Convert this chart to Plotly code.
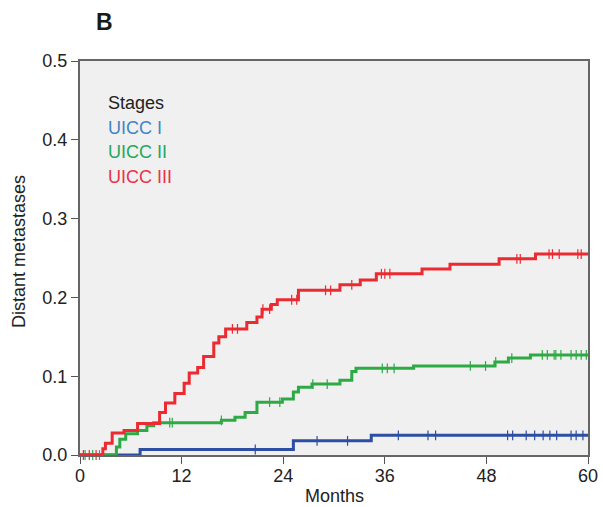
import plotly.graph_objects as go
import numpy as np

# Step-function data (months, cumulative incidence)
uicc1_t = [0, 7.1, 25.2, 34.4, 60]
uicc1_v = [0.0, 0.007, 0.018, 0.025, 0.025]
uicc1_cens = [20.7, 28.0, 31.6, 37.6, 41.1, 42.0, 50.5, 51.1, 52.7, 53.7, 54.7, 55.5, 56.3, 58.0, 58.6, 59.4]

uicc2_t = [0, 4.3, 4.7, 5.4, 6.8, 7.9, 8.7, 16.7, 18.3, 19.5, 20.9, 23.9, 25.2, 25.8, 27.4, 30.7, 32.1, 32.6, 39.4, 49.0, 50.6, 53.2, 60]
uicc2_v = [0.0, 0.010, 0.020, 0.027, 0.031, 0.037, 0.041, 0.044, 0.048, 0.054, 0.067, 0.071, 0.080, 0.086, 0.090, 0.095, 0.106, 0.110, 0.113, 0.118, 0.123, 0.127, 0.127]
uicc2_cens = [0.6, 1.5, 2.3, 10.6, 10.9, 16.7, 22.4, 23.6, 27.5, 29.2, 35.7, 36.3, 37.1, 46.1, 47.9, 49.1, 51.0, 54.6, 55.2, 56.0, 56.2, 56.8, 58.0, 58.6, 59.2, 59.8]

uicc3_t = [0, 2.7, 3.0, 3.8, 5.2, 6.8, 9.4, 10.1, 11.2, 12.3, 12.9, 13.9, 14.6, 15.8, 16.4, 17.2, 19.7, 20.9, 21.5, 22.6, 23.3, 25.8, 30.7, 33.1, 35.0, 40.4, 43.7, 49.5, 53.8, 60]
uicc3_v = [0.0, 0.008, 0.015, 0.028, 0.031, 0.040, 0.054, 0.066, 0.078, 0.091, 0.104, 0.111, 0.125, 0.142, 0.150, 0.160, 0.168, 0.175, 0.185, 0.191, 0.197, 0.209, 0.216, 0.222, 0.230, 0.236, 0.242, 0.249, 0.255, 0.255]
uicc3_cens = [0.4, 1.1, 1.9, 18.0, 18.6, 21.6, 22.4, 25.0, 25.6, 29.0, 29.6, 32.1, 35.6, 36.0, 36.6, 51.6, 52.0, 55.4, 55.8, 56.6, 58.8, 59.2]

x_ticks = [0, 12, 24, 36, 48, 60]
y_ticks = [0.0, 0.1, 0.2, 0.3, 0.4, 0.5]

series = [
    ("UICC I", uicc1_t, uicc1_v, uicc1_cens, "#2c4ea3", "#3f84c9"),
    ("UICC II", uicc2_t, uicc2_v, uicc2_cens, "#2eaa45", "#22a85c"),
    ("UICC III", uicc3_t, uicc3_v, uicc3_cens, "#ec2a31", "#ea3249"),
]

fig = go.Figure()

def step_val(ts, vs, t):
    idx = np.searchsorted(np.array(ts), t, side="right") - 1
    return vs[max(idx, 0)]

for name, ts, vs, cens, col, _ in series:
    fig.add_trace(go.Scatter(x=ts, y=vs, mode="lines", line=dict(color=col, width=3, shape="hv"),
                             name=name, showlegend=False, cliponaxis=False))
    fig.add_trace(go.Scatter(x=cens, y=[step_val(ts, vs, c) for c in cens], mode="markers",
                             marker=dict(symbol="line-ns", size=7, line=dict(color=col, width=1.2)),
                             showlegend=False, cliponaxis=False))

font = "Liberation Sans, Arial, sans-serif"
W, H = 603, 507
L, R, T, B = 80, 15, 61, 52
pw, ph = W - L - R, H - T - B

fig.update_layout(
    width=W, height=H,
    margin=dict(l=L, r=R, t=T, b=B, autoexpand=False),
    paper_bgcolor="white", plot_bgcolor="#f0f0f0",
    font=dict(family=font, size=18, color="#222222"),
    xaxis=dict(range=[0, 60], tickvals=x_ticks, ticks="outside", ticklen=7, tickcolor="#555",
               showline=True, linecolor="#666", linewidth=2, mirror=True, showgrid=False, zeroline=False,
               automargin=False, ticklabelstandoff=-4),
    yaxis=dict(range=[0, 0.5], tickvals=y_ticks, tickformat=".1f", ticks="outside", ticklen=7, tickcolor="#555",
               showline=True, linecolor="#666", linewidth=2, mirror=True, showgrid=False, zeroline=False,
               automargin=False),
)

def to_paper(px, py):
    return (px - L) / pw, 1 - (py - T) / ph

annots = []
bx, by = to_paper(94, 22)
annots.append(dict(text="<b>B</b>", x=bx, y=by, xref="paper", yref="paper", showarrow=False,
                   xanchor="left", yanchor="middle", font=dict(size=23, color="#1a1a1a", family=font)))
legend_items = [("Stages", "#222222", 103), ("UICC I", series[0][5], 128),
                ("UICC II", series[1][5], 152), ("UICC III", series[2][5], 177)]
for text, col, py in legend_items:
    ax, ay = to_paper(106, py)
    annots.append(dict(text=text, x=ax, y=ay, xref="paper", yref="paper", showarrow=False,
                       xanchor="left", yanchor="middle", font=dict(size=18, color=col, family=font)))
mx, my = to_paper(334, 496)
annots.append(dict(text="Months", x=mx, y=my, xref="paper", yref="paper", showarrow=False,
                   xanchor="center", yanchor="middle", font=dict(size=18, color="#222222", family=font)))
dx, dy = to_paper(19, 252)
annots.append(dict(text="Distant metastases", x=dx, y=dy, xref="paper", yref="paper", showarrow=False,
                   textangle=-90, xanchor="center", yanchor="middle",
                   font=dict(size=18, color="#222222", family=font)))
fig.update_layout(annotations=annots)

fig.write_html("out.html")
